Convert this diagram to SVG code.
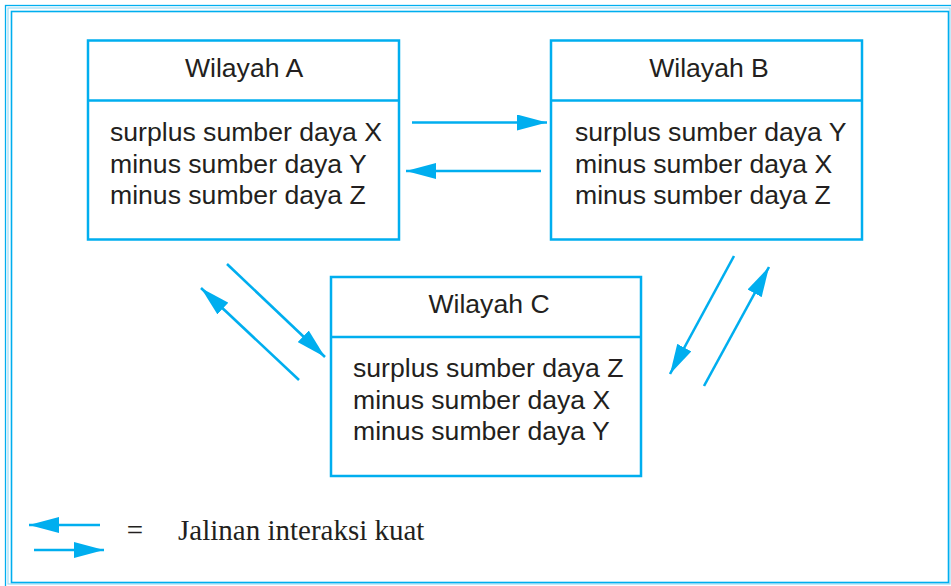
<svg xmlns="http://www.w3.org/2000/svg" width="951" height="586" viewBox="0 0 951 586">
<style>
.box{fill:#fff;stroke:#00aeef;stroke-width:2.5}
.div{stroke:#00aeef;stroke-width:2.5}
.t{font-family:"Liberation Sans",Arial,sans-serif;font-size:26.6px;fill:#231f20}
.c{text-anchor:middle}
.s{font-family:"Liberation Serif","Times New Roman",serif;font-size:29px;fill:#231f20}
.con{stroke:#00aeef;stroke-width:2.6;fill:none;marker-end:url(#ah)}
</style>
<defs>
<marker id="ah" markerUnits="userSpaceOnUse" markerWidth="30" markerHeight="16" viewBox="0 0 30 16" refX="30" refY="8" orient="auto">
<path d="M0,0 L30,8 L0,16 Z" fill="#00aeef"/>
</marker>
</defs>
<rect width="951" height="586" fill="#fff"/>
<g id="frame" fill="none">
<rect x="5.5" y="5.5" width="950" height="590" stroke="#00aeef" stroke-width="1.3"/>
<rect x="8" y="8" width="942" height="576" stroke="#9edcf5" stroke-width="1.2"/>
<rect x="11.5" y="11.5" width="937" height="571" stroke="#00aeef" stroke-width="1.6"/>
</g>
<g id="nodeA">
<rect class="box" x="88" y="40.5" width="311" height="199"/>
<line class="div" x1="88" y1="100.5" x2="399" y2="100.5"/>
<text class="t c" x="244" y="77">Wilayah A</text>
<text class="t" x="110" y="141">surplus sumber daya X</text>
<text class="t" x="110" y="172.5">minus sumber daya Y</text>
<text class="t" x="110" y="204">minus sumber daya Z</text>
</g>
<g id="nodeB">
<rect class="box" x="551" y="40.5" width="311" height="199"/>
<line class="div" x1="551" y1="100.5" x2="862" y2="100.5"/>
<text class="t c" x="709" y="77">Wilayah B</text>
<text class="t" x="575" y="141">surplus sumber daya Y</text>
<text class="t" x="575" y="172.5">minus sumber daya X</text>
<text class="t" x="575" y="204">minus sumber daya Z</text>
</g>
<g id="nodeC">
<rect class="box" x="331" y="277" width="310" height="199"/>
<line class="div" x1="331" y1="337" x2="641" y2="337"/>
<text class="t c" x="489" y="313">Wilayah C</text>
<text class="t" x="353" y="377">surplus sumber daya Z</text>
<text class="t" x="353" y="408.5">minus sumber daya X</text>
<text class="t" x="353" y="440">minus sumber daya Y</text>
</g>
<g id="connectors">
<line class="con" x1="412" y1="122.5" x2="547" y2="122.5"/>
<line class="con" x1="541" y1="171" x2="406" y2="171"/>
<line class="con" x1="227" y1="264" x2="325" y2="357"/>
<line class="con" x1="299" y1="380" x2="201" y2="288"/>
<line class="con" x1="734" y1="256" x2="670" y2="374"/>
<line class="con" x1="704" y1="386" x2="769" y2="267"/>
</g>
<g id="legend">
<line class="con" x1="100" y1="525" x2="29" y2="525"/>
<line class="con" x1="34" y1="550" x2="104" y2="550"/>
<text class="s" x="135" y="540" text-anchor="middle">=</text>
<text class="s" x="178" y="540">Jalinan interaksi kuat</text>
</g>
</svg>
